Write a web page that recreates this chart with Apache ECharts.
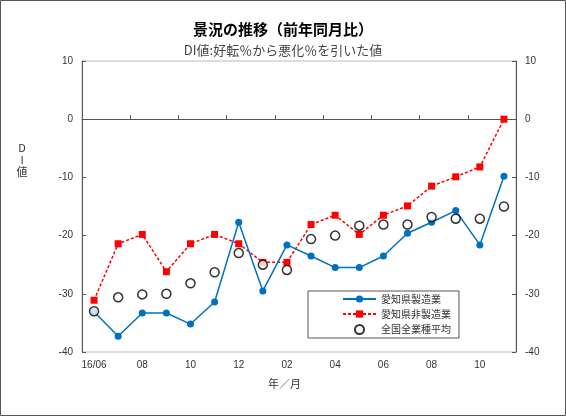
<!DOCTYPE html>
<html>
<head>
<meta charset="utf-8">
<script src="https://cdn.jsdelivr.net/npm/echarts@6/dist/echarts.min.js"></script>
<style>
html,body{margin:0;padding:0;background:#fff;}
#chart{width:566px;height:416px;}
</style>
</head>
<body>
<div id="chart"></div>
<script>
const categories = ['16/06','07','08','09','10','11','12','01','02','03','04','05','06','07','08','09','10','11'];
const seriesNames = ['愛知県製造業','愛知県非製造業','全国全業種平均'];
const manufacturing = [-33.1,-37.3,-33.3,-33.3,-35.2,-31.4,-17.7,-29.5,-21.6,-23.5,-25.5,-25.5,-23.5,-19.6,-17.7,-15.7,-21.6,-9.8];
const nonManufacturing = [-31.1,-21.4,-19.8,-26.2,-21.4,-19.8,-21.4,-24.6,-24.6,-18.1,-16.5,-19.8,-16.5,-14.9,-11.5,-9.9,-8.2,0];
const nationalAverage = [-33.0,-30.6,-30.1,-30.0,-28.2,-26.3,-23.0,-25.0,-25.9,-20.6,-20.0,-18.3,-18.1,-18.1,-16.8,-17.1,-17.1,-15.0];
const yTicks = [10,0,-10,-20,-30,-40];
const yNameChars = ['D','I','値'];

const JP = '"Noto Sans CJK JP", "Liberation Sans", sans-serif';
const LAT = '"Liberation Sans", Arial, sans-serif';
const chart = echarts.init(document.getElementById('chart'), null, {renderer:'canvas'});
const yMin = Math.min(...yTicks), yMax = Math.max(...yTicks);
const axisCommon = {
  type:'value', min:yMin, max:yMax, interval:10,
  axisLine:{show:true, lineStyle:{color:'#555', width:1}},
  axisTick:{show:true, inside:true, length:4, lineStyle:{color:'#555'}},
  splitLine:{show:false},
  axisLabel:{color:'#333', fontSize:10, fontFamily:LAT, margin:9}
};
const yNameGraphics = yNameChars.map((c, i) => ({
  type:'text', x:22, y:148 + i * 12,
  style:{text:c, fill:'#333', font:'11px "Noto Sans CJK JP"', textAlign:'center', textVerticalAlign:'middle'}
}));
chart.setOption({
  backgroundColor:'#fff',
  animation:false,
  title:[
    {text:'景況の推移（前年同月比）', left:'center', top:17, textStyle:{fontSize:15, fontWeight:'bold', color:'#000', fontFamily:JP}},
    {text:'DI値:好転％から悪化％を引いた値', left:'center', top:39, textStyle:{fontSize:13, fontWeight:'normal', color:'#444', fontFamily:JP}}
  ],
  grid:{left:82, right:50, top:61, bottom:64, show:true, borderColor:'#bbb', borderWidth:1, containLabel:false},
  legend:{
    show:true, left:308, top:291, width:172, orient:'vertical',
    data:seriesNames,
    backgroundColor:'#fff', borderColor:'#555', borderWidth:1,
    padding:[3,8,3,34], itemGap:5, itemWidth:33, itemHeight:9,
    textStyle:{fontSize:10, color:'#333', fontFamily:JP}
  },
  xAxis:{
    type:'category', data:categories, boundaryGap:true,
    axisLine:{show:true, lineStyle:{color:'#555', width:1}},
    axisTick:{show:true, inside:true, length:4, alignWithLabel:false, lineStyle:{color:'#555'}},
    axisLabel:{interval:1, color:'#333', fontSize:10, fontFamily:LAT, margin:8},
    splitLine:{show:false}
  },
  yAxis:[
    Object.assign({position:'left'}, axisCommon),
    Object.assign({position:'right'}, axisCommon)
  ],
  graphic:[
    {type:'rect', shape:{x:0.5, y:0.5, width:565, height:415}, style:{fill:null, stroke:'#555', lineWidth:1}, silent:true, z:100},
    ...yNameGraphics,
    {type:'text', left:268, top:378, style:{text:'年／月', fill:'#333', font:'11px "Noto Sans CJK JP"'}}
  ],
  series:[
    {name:seriesNames[0], type:'line', data:manufacturing, yAxisIndex:0,
      symbol:'circle', symbolSize:7, itemStyle:{color:'#0070C0'},
      lineStyle:{color:'#0070C0', width:1.5}, z:3},
    {name:seriesNames[1], type:'line', data:nonManufacturing, yAxisIndex:0,
      symbol:'rect', symbolSize:7, itemStyle:{color:'#FF0000'},
      lineStyle:{color:'#FF0000', width:1.5, type:[3,2]}, z:2},
    {name:seriesNames[2], type:'scatter', data:nationalAverage, yAxisIndex:0,
      symbol:'circle', symbolSize:9,
      itemStyle:{color:'#fff', borderColor:'#000', borderWidth:1.5}, z:4}
  ]
});
</script>
</body>
</html>
